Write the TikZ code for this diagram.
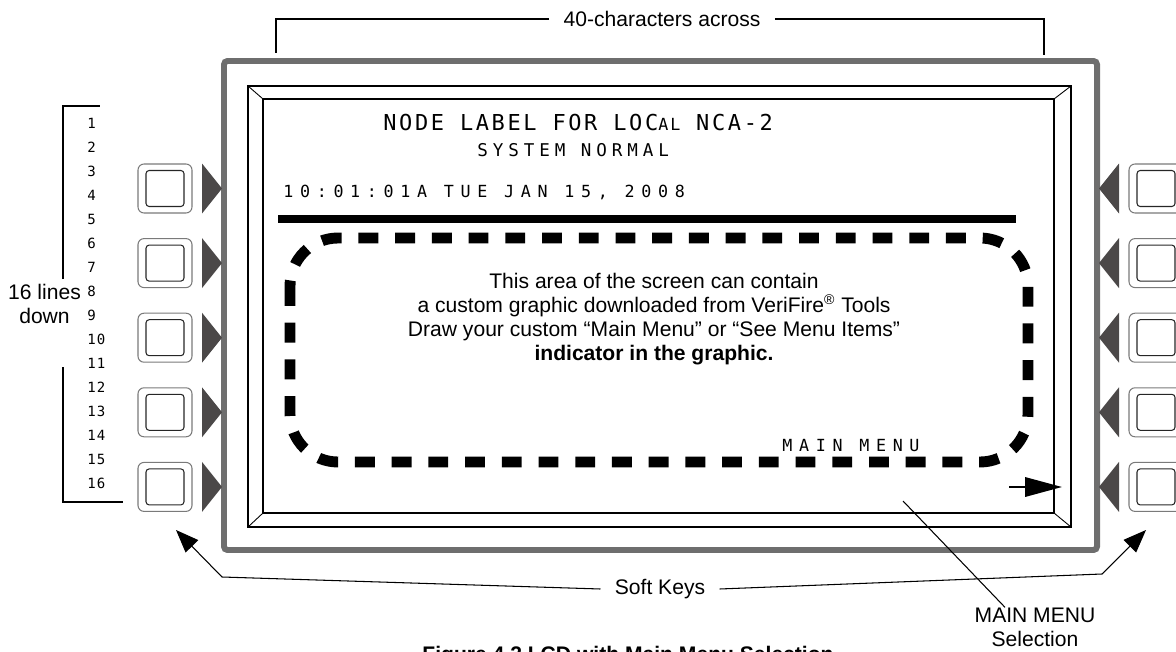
\documentclass[tikz,border=0pt]{standalone}
\usepackage{fontspec}
\setmainfont{Liberation Sans}
\newfontfamily\lcdhead[LetterSpace=12]{DejaVu Sans Mono}
\newfontfamily\lcdmid[LetterSpace=28]{DejaVu Sans Mono}
\newfontfamily\lcdwide[LetterSpace=40]{DejaVu Sans Mono}
\newfontfamily\lcdnum[LetterSpace=8]{DejaVu Sans Mono}
\usepackage{xcolor}
\usepackage{tikz}
\usetikzlibrary{arrows.meta,positioning,calc}

\definecolor{framegray}{HTML}{6E6E6E}
\definecolor{tabgray}{HTML}{4B4848}
\definecolor{capgray}{HTML}{7A7A7A}

\tikzset{
  labeltext/.style={font=\fontsize{12pt}{13.6pt}\selectfont, inner sep=0pt},
  lcdtext/.style={anchor=west, inner sep=0pt},
  leader/.style={line width=0.6pt},
  softarrow/.style={leader, -{Triangle[length=13pt,width=10pt]}},
  keycap/.style={draw=capgray, line width=0.6pt, rounded corners=3.4pt},
  keyface/.style={draw=black!85, line width=0.6pt, rounded corners=1.8pt},
  keytab/.style={fill=tabgray, draw=none},
}

\begin{document}
\begin{tikzpicture}[x=0.02cm,y=-0.02cm]
\useasboundingbox (0,0) rectangle (1176,652);

% housing and bezel
\draw[framegray, line width=3.4pt, rounded corners=2pt] (224,61) rectangle (1097,550);
\draw[line width=1.1pt] (248,86) rectangle (1071,527);
\draw[line width=1.1pt] (263,99) rectangle (1054,513);
\draw[line width=0.5pt] (248,86) -- (263,99) (1071,86) -- (1054,99)
  (248,527) -- (263,513) (1071,527) -- (1054,513);

% soft keys, five per side
\foreach \i in {0,...,4} {
  \pgfmathsetmacro\ky{188.5+74.6*\i}
  \draw[keycap] (138,{\ky-24.5}) rectangle (192,{\ky+24.5});
  \draw[keyface] (146,{\ky-18}) rectangle (184,{\ky+18});
  \fill[keytab] (202,{\ky-25}) -- (222,\ky) -- (202,{\ky+25}) -- cycle;
  \draw[keycap] (1129,{\ky-24.5}) rectangle (1183,{\ky+24.5});
  \draw[keyface] (1137,{\ky-18}) rectangle (1175,{\ky+18});
  \fill[keytab] (1119,{\ky-25}) -- (1099,\ky) -- (1119,{\ky+25}) -- cycle;
}

% screen contents
\node[lcdtext, font=\lcdhead\fontsize{12.5pt}{14pt}\selectfont] (title) at (383,123)
  {NODE LABEL FOR LOC{\fontsize{9.5pt}{11pt}\selectfont AL} NCA-2};
\node[lcdtext, font=\lcdmid\fontsize{10pt}{12pt}\selectfont] (status) at (477,150) {SYSTEM NORMAL};
\node[lcdtext, font=\lcdwide\fontsize{9.5pt}{11pt}\selectfont] (clock) at (283,192) {10:01:01A TUE JAN 15, 2008};
\draw[line width=4.5pt] (278,219) -- (1016,219);
\draw[line width=6.2pt, dash pattern=on 11.3pt off 9.6pt, rounded corners=0.96cm] (290,238) rectangle (1028,462);
\node[labeltext, align=center] (area) at (654,319)
  {This area of the screen can contain\\
   a custom graphic downloaded from VeriFire\textsuperscript{®} Tools\\
   Draw your custom “Main Menu” or “See Menu Items”\\
   \textbf{indicator in the graphic.}};
\node[lcdtext, font=\lcdwide\fontsize{9.5pt}{11pt}\selectfont] (menu) at (782,446) {MAIN MENU};
\draw[line width=1.3pt, -{Triangle[length=21pt,width=11pt]}] (1009,487) -- (1062,487);

% line numbers
\foreach \n in {1,...,16}
  \node[lcdtext, font=\lcdnum\fontsize{8pt}{9pt}\selectfont] (ln\n) at (87,{123+24*(\n-1)}) {\n};

% callouts
\node[labeltext, inner xsep=8pt] (across) at (662,19) {40-characters across};
\coordinate (accL) at (276,53);
\coordinate (accR) at (1044,55);
\draw[line width=0.9pt] (across.west) -| (accL);
\draw[line width=0.9pt] (across.east) -| (accR);

\node[labeltext, align=center] (lines) at (44.5,304) {16 lines\\down};
\coordinate (brTop) at (100,106);
\coordinate (brMidA) at (63,279);
\coordinate (brMidB) at (63,367);
\coordinate (brBot) at (123,502);
\draw[line width=1.1pt] (brMidA) |- (brTop);
\draw[line width=1.1pt] (brMidB) |- (brBot);

\node[labeltext, inner xsep=8pt] (soft) at (660,589) {Soft Keys};
\coordinate (softL) at (222,577);
\coordinate (softR) at (1102,574);
\coordinate (tipL) at (176,530);
\coordinate (tipR) at (1146,530);
\draw[softarrow] (soft.west) -- (softL) -- (tipL);
\draw[softarrow] (soft.east) -- (softR) -- (tipR);

\node[labeltext, align=center] (msel) at (1035,627) {MAIN MENU\\Selection};
\coordinate (mselEnd) at (903,501);
\draw[leader] ([xshift=-0.6cm]msel.north) -- (mselEnd);

\node[font=\bfseries\fontsize{12pt}{14pt}\selectfont, anchor=north, inner sep=0pt] (caption) at (628,646)
  {Figure 4.2 LCD with Main Menu Selection};
\end{tikzpicture}
\end{document}
